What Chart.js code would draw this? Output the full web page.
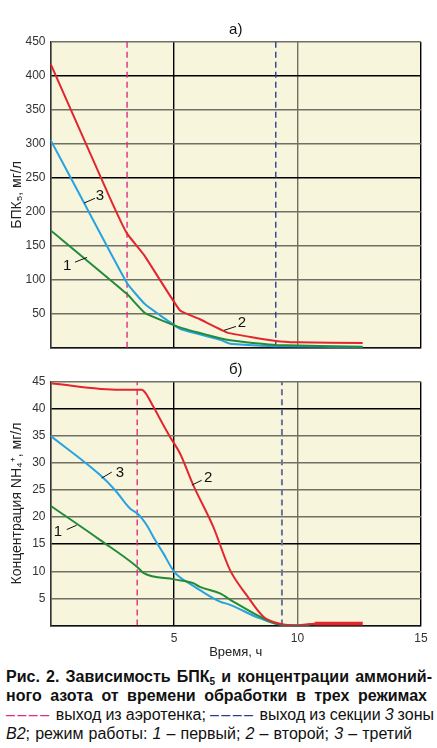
<!DOCTYPE html>
<html><head><meta charset="utf-8">
<script src="https://cdn.jsdelivr.net/npm/chart.js@4.4.0/dist/chart.umd.min.js"></script>
<style>
html,body{margin:0;padding:0;background:#fff;width:437px;height:748px;overflow:hidden;font-family:"Liberation Sans",Arial,sans-serif;}
#c1{position:absolute;left:0;top:0;}
#c2{position:absolute;left:0;top:360px;}
.cap{position:absolute;left:6px;white-space:nowrap;font-size:16px;line-height:19px;color:#111;}
.b{font-weight:bold;}
.sub{font-size:10px;vertical-align:-3px;line-height:0;}
.pk{color:#e02c84;letter-spacing:2.5px;}
.bl{color:#2b3e8e;letter-spacing:2.5px;}
</style></head><body>
<canvas id="c1" width="437" height="360"></canvas>
<canvas id="c2" width="437" height="300"></canvas>
<div class="cap b" data-w="426" style="top:667px">Рис. 2. Зависимость БПК<span class="sub">5</span> и концентрации аммоний-</div>
<div class="cap b" data-w="421" style="top:686px">ного азота от времени обработки в трех режимах</div>
<div class="cap" data-w="428" style="top:705px"><span class="pk">––––</span> выход из аэротенка; <span class="bl">––––</span> выход из секции <i>3</i> зоны</div>
<div class="cap" data-w="406" style="top:724px"><i>В2</i>; режим работы: <i>1</i> – первый; <i>2</i> – второй; <i>3</i> – третий</div>
<script>
// ---- Data ----
const xTicks = [0, 5, 10, 15];
// Top chart (БПК5, мг/л)
const bodT1 = [0, 3.1, 3.83, 5.24, 6.86, 7.27, 9.13, 12.64];
const bodV1 = [173, 79, 51, 30, 14, 11, 4, 1.6];
const bodT2 = [0, 2.4, 3.1, 3.8, 5.24, 6.05, 7.19, 9.13, 10, 12.64];
const bodV2 = [418, 221, 168, 136, 55, 42, 22, 10, 8, 7];
const bodT3 = [0, 1.26, 3.1, 3.83, 5.24, 6.86, 7.27, 9.13, 12.64];
const bodV3 = [306, 220, 95, 64, 28, 12, 6, 2.3, 0.6];
const bodPink = 3.1, bodBlue = 9.12;
// Bottom chart (NH4+, мг/л)
const nhT1 = [0, 2.0, 3.51, 3.76, 5.01, 5.78, 6.05, 6.86, 7.4, 8.75, 9.36, 10, 11.18];
const nhV1 = [22.1, 15.8, 10.8, 9.7, 8.5, 7.8, 7.1, 5.9, 4.4, 1.0, 0.1, 0, 0.4];
const nhT2 = [0, 2.81, 3.69, 3.85, 4.16, 4.84, 5.24, 5.78, 6.59, 7.27, 7.94, 8.62, 9.29, 10, 10.7, 12.64];
const nhV2 = [44.7, 43.5, 43.5, 42.9, 40.4, 34.8, 31.8, 25.9, 18.2, 10.2, 5.6, 1.6, 0.3, 0, 0.3, 0.3];
const nhT3 = [0, 2.0, 2.61, 3.22, 3.51, 3.69, 3.9, 4.23, 4.57, 5.01, 5.78, 6.05, 6.86, 7.27, 8.48, 9.56, 10, 10.5];
const nhV3 = [35, 27.8, 25, 21.6, 20.7, 19.8, 18.5, 15.8, 13.3, 9.9, 7.3, 6.5, 4.4, 3.8, 1.3, 0, 0, 0.1];
const nhPink = 3.51, nhBlue = 9.37;

const RED = '#e3262e', BLUE = '#27a3e1', GREEN = '#228b3b', PINK = '#e02c84', NAVY = '#2b3e8e';
const FONT = '"Liberation Sans", Arial, sans-serif';
const pts = (T, V) => T.map((t, i) => ({x: t, y: V[i]}));

const bgPlugin = {
  id: 'bg',
  beforeDraw(chart) {
    const {ctx, chartArea: a} = chart;
    ctx.save(); ctx.fillStyle = '#f7f5db';
    ctx.fillRect(a.left, a.top, a.right - a.left, a.bottom - a.top);
    ctx.restore();
  }
};
const notePlugin = {
  id: 'notes',
  afterDatasetsDraw(chart, args, opts) {
    const {ctx, chartArea: a, scales: {x, y}} = chart;
    ctx.save();
    ctx.font = '15px ' + FONT; ctx.fillStyle = '#111';
    ctx.textAlign = 'center'; ctx.textBaseline = 'middle';
    ctx.fillText(opts.title, (a.left + a.right) / 2, a.top - 12);
    ctx.strokeStyle = '#111'; ctx.lineWidth = 1;
    for (const n of opts.notes) {
      ctx.beginPath();
      ctx.moveTo(x.getPixelForValue(n.l[0]), y.getPixelForValue(n.l[1]));
      ctx.lineTo(x.getPixelForValue(n.l[2]), y.getPixelForValue(n.l[3]));
      ctx.stroke();
      ctx.fillText(n.text, x.getPixelForValue(n.at[0]), y.getPixelForValue(n.at[1]));
    }
    ctx.restore();
  }
};

function makeChart(id, o) {
  const blackY = o.blackY;
  const gridGrey = '#707064';
  new Chart(document.getElementById(id), {
    type: 'scatter',
    data: {datasets: [
      {data: pts(o.T1, o.V1), borderColor: GREEN, order: 1},
      {data: pts(o.T3, o.V3), borderColor: BLUE, order: 1},
      {data: pts(o.T2, o.V2), borderColor: RED, order: 0,
        segment: {borderWidth: c => c.p0.parsed.x >= 10.6 ? 4 : 2}},
      {data: [{x: o.pink, y: 0}, {x: o.pink, y: o.ymax}], borderColor: PINK, borderWidth: 1.4, borderDash: [6, 4], order: 3, tension: 0},
      {data: [{x: o.blue, y: 0}, {x: o.blue, y: o.ymax}], borderColor: o.blueCol, borderWidth: o.blueW, borderDash: [6, 4], order: 3, tension: 0}
    ].map(d => Object.assign({showLine: true, pointRadius: 0, borderWidth: 2, tension: o.tension,
        cubicInterpolationMode: o.mono ? 'monotone' : 'default', fill: false}, d))},
    options: {
      responsive: false, animation: false,
      layout: {padding: {top: o.padTop, right: 16, left: 0, bottom: 0}},
      plugins: {legend: {display: false}, tooltip: {enabled: false},
        notes: {title: o.title, notes: o.notes}},
      scales: {
        x: {type: 'linear', min: 0, max: 15,
          afterBuildTicks: s => { s.ticks = xTicks.map(v => ({value: v})); },
          afterFit: s => { s.height = o.xH; },
          ticks: {display: o.showX, callback: v => v === 0 ? '' : v, font: {size: 12, family: FONT}, color: '#333', padding: 6},
          grid: {drawTicks: false, color: c => (c.tick && (c.tick.value === 5 || c.tick.value === 15)) ? '#000' : gridGrey, lineWidth: 1.4},
          border: {color: '#111', width: 1.5},
          title: {display: o.showX, text: 'Время, ч', font: {size: 13, family: FONT}, color: '#222', padding: 0}
        },
        y: {type: 'linear', min: 0, max: o.ymax,
          afterBuildTicks: s => { s.ticks = o.yTicks.map(v => ({value: v})); },
          afterFit: s => { s.width = 50.5; },
          ticks: {callback: v => v === 0 ? '' : v, font: {size: 12, family: FONT}, color: '#333', padding: 5},
          grid: {drawTicks: false, color: c => (c.tick && blackY.includes(c.tick.value)) ? '#000' : gridGrey, lineWidth: 1.4},
          border: {color: '#333', width: 1.5},
          title: {display: true, text: o.yTitle, font: {size: 14, family: FONT}, color: '#222', padding: {top: 9, bottom: 0}}
        }
      }
    },
    plugins: [bgPlugin, notePlugin]
  });
}

makeChart('c1', {
  T1: bodT1, V1: bodV1, T2: bodT2, V2: bodV2, T3: bodT3, V3: bodV3,
  pink: bodPink, blue: bodBlue, blueCol: NAVY, blueW: 1.4, ymax: 450,
  yTicks: [0, 50, 100, 150, 200, 250, 300, 350, 400, 450], blackY: [400, 250],
  padTop: 42, xH: 8.4, showX: false, tension: 0.1, mono: false, title: 'а)', yTitle: 'БПК₅, мг/л',
  notes: [
    {text: '3', at: [2.0, 223], l: [1.36, 213, 1.8, 220]},
    {text: '1', at: [0.67, 121], l: [0.99, 126, 1.48, 133]},
    {text: '2', at: [7.75, 36], l: [7.02, 25.6, 7.51, 31.4]}
  ]
});
makeChart('c2', {
  T1: nhT1, V1: nhV1, T2: nhT2, V2: nhV2, T3: nhT3, V3: nhV3,
  pink: nhPink, blue: nhBlue, blueCol: '#6b73a3', blueW: 2, ymax: 45,
  yTicks: [0, 5, 10, 15, 20, 25, 30, 35, 40, 45], blackY: [40, 15],
  padTop: 21.7, xH: 34.6, showX: true, tension: 0.3, mono: true, title: 'б)', yTitle: 'Концентрация NH₄⁺, мг/л',
  notes: [
    {text: '3', at: [2.81, 28.2], l: [2.07, 27.2, 2.48, 28.3]},
    {text: '2', at: [6.38, 27.2], l: [5.72, 25.9, 6.12, 26.8]},
    {text: '1', at: [0.3, 17.3], l: [0.66, 17.7, 1.06, 18.5]}
  ]
});

// justify caption lines to their measured target widths
document.querySelectorAll('.cap').forEach(el => {
  const target = +el.dataset.w;
  const w = el.getBoundingClientRect().width;
  const spaces = (el.textContent.match(/ /g) || []).length;
  if (spaces) el.style.wordSpacing = Math.max(-1, (target - w) / spaces) + 'px';
});
</script>
</body></html>
